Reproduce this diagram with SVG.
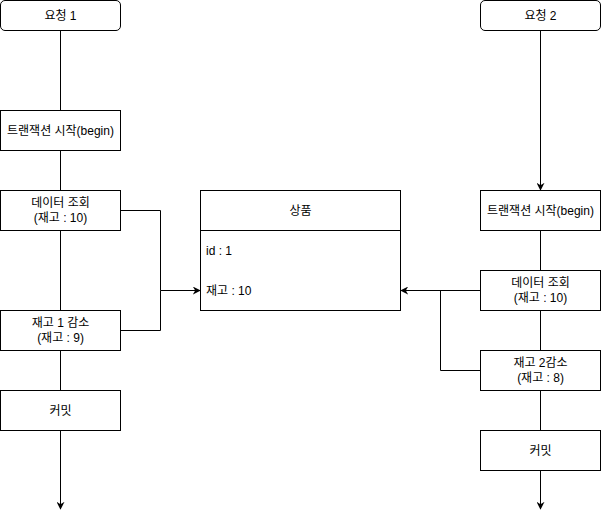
<svg xmlns="http://www.w3.org/2000/svg" width="601" height="519" viewBox="0 0 601 519">
<defs>
<marker id="arr" viewBox="0 0 10 10" refX="9" refY="5" markerWidth="8" markerHeight="8" markerUnits="userSpaceOnUse" orient="auto">
<path d="M0,0 L10,5 L0,10 L3,5 Z" fill="#000"/>
</marker>
</defs>
<style>
.box{fill:#fff;stroke:#000;stroke-width:1}
.ln{fill:none;stroke:#000;stroke-width:1}
text{font-family:"Liberation Sans","Noto Sans CJK KR",sans-serif;font-size:12px;fill:#000}
.c{text-anchor:middle}
</style>
<rect width="601" height="519" fill="#fff"/>
<g id="connectors">
<path class="ln" d="M60.5,30.5 V110.5"/>
<path class="ln" d="M60.5,150.5 V190.5"/>
<path class="ln" d="M60.5,230.5 V310.5"/>
<path class="ln" d="M60.5,350.5 V390.5"/>
<path class="ln" d="M60.5,430.5 V509" marker-end="url(#arr)"/>
<path class="ln" d="M120.5,210.5 H160.5 V290.5 H200" marker-end="url(#arr)"/>
<path class="ln" d="M120.5,330.5 H160.5 V290.5"/>
<path class="ln" d="M540.5,30.5 V190" marker-end="url(#arr)"/>
<path class="ln" d="M540.5,230.5 V270.5"/>
<path class="ln" d="M540.5,310.5 V350.5"/>
<path class="ln" d="M540.5,390.5 V430.5"/>
<path class="ln" d="M540.5,470.5 V509" marker-end="url(#arr)"/>
<path class="ln" d="M480.5,290.5 H401" marker-end="url(#arr)"/>
<path class="ln" d="M480.5,370.5 H440.5 V290.5"/>
</g>
<g id="req1"><rect class="box" x="0.5" y="0.5" width="120" height="30" rx="4.5"/><text class="c" x="60.5" y="20">요청 1</text></g>
<g id="tx1"><rect class="box" x="0.5" y="110.5" width="120" height="40"/><text class="c" x="60.5" y="135">트랜잭션 시작(begin)</text></g>
<g id="read1"><rect class="box" x="0.5" y="190.5" width="120" height="40"/><text class="c" x="60.5" y="207">데이터 조회</text><text class="c" x="60.5" y="222">(재고 : 10)</text></g>
<g id="dec1"><rect class="box" x="0.5" y="310.5" width="120" height="40"/><text class="c" x="60.5" y="327">재고 1 감소</text><text class="c" x="60.5" y="342">(재고 : 9)</text></g>
<g id="commit1"><rect class="box" x="0.5" y="390.5" width="120" height="40"/><text class="c" x="60.5" y="415">커밋</text></g>
<g id="product"><rect class="box" x="200.5" y="190.5" width="200" height="120"/><path class="ln" d="M200.5,230.5 H400.5"/><text class="c" x="300.5" y="215">상품</text><text x="206" y="255">id : 1</text><text x="206" y="295">재고 : 10</text></g>
<g id="req2"><rect class="box" x="480.5" y="0.5" width="120" height="30" rx="4.5"/><text class="c" x="540.5" y="20">요청 2</text></g>
<g id="tx2"><rect class="box" x="480.5" y="190.5" width="120" height="40"/><text class="c" x="540.5" y="215">트랜잭션 시작(begin)</text></g>
<g id="read2"><rect class="box" x="480.5" y="270.5" width="120" height="40"/><text class="c" x="540.5" y="287">데이터 조회</text><text class="c" x="540.5" y="302">(재고 : 10)</text></g>
<g id="dec2"><rect class="box" x="480.5" y="350.5" width="120" height="40"/><text class="c" x="540.5" y="367">재고 2감소</text><text class="c" x="540.5" y="382">(재고 : 8)</text></g>
<g id="commit2"><rect class="box" x="480.5" y="430.5" width="120" height="40"/><text class="c" x="540.5" y="455">커밋</text></g>
</svg>
